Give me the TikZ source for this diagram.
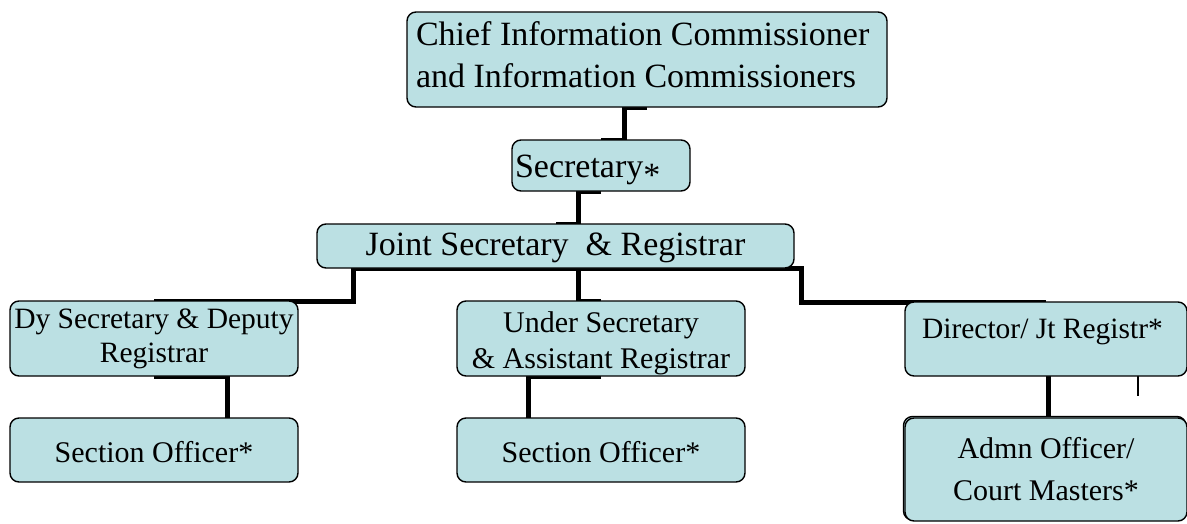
\documentclass[tikz,border=0pt]{standalone}
\usepackage{fontspec}
\setmainfont{Liberation Serif}
\usetikzlibrary{calc}
\pgfdeclarelayer{background}
\pgfsetlayers{background,main}
\definecolor{boxfill}{HTML}{BBE0E3}
\begin{document}
\begin{tikzpicture}[x=1pt,y=-1pt,
  box/.style={draw=black, line width=1.4pt, fill=boxfill, rounded corners=9pt, inner sep=0pt, outer sep=0pt, anchor=center},
  conn/.style={draw=black, line width=5pt, line join=miter},
  thinconn/.style={draw=black, line width=1.5pt}]
\useasboundingbox (0,0) rectangle (1187,523);

% back outline of the last box
\draw[box] (903.5,416.5) rectangle (1186,520);

\node[box, minimum width=480pt, minimum height=95pt, text height=20pt, text depth=49pt] (C0) at (647,59.5)
  {\parbox[t]{462pt}{\raggedright\fontsize{34}{42}\selectfont Chief Information Commissioner\\and Information Commissioners}};
\node[box, minimum width=178pt, minimum height=51pt, text height=30pt, text depth=7pt] (S) at (601,165.5)
  {\parbox[t]{172pt}{\raggedright\fontsize{34}{40}\selectfont Secretary\raisebox{-9pt}{*}}};
\node[box, minimum width=477pt, minimum height=44pt, text height=25pt, text depth=7pt] (J) at (555.5,246)
  {\fontsize{34}{40}\selectfont Joint Secretary\ \ \& Registrar};
\node[box, minimum width=288pt, minimum height=75pt, text height=20pt, text depth=41pt] (D1) at (154,338.5)
  {\parbox[t]{288pt}{\centering\fontsize{29.5}{34}\selectfont Dy Secretary \& Deputy\\Registrar}};
\node[box, minimum width=288pt, minimum height=75pt, text height=20pt, text depth=33pt] (U) at (601,338.5)
  {\parbox[t]{288pt}{\centering\fontsize{30}{36}\selectfont Under Secretary\\\& Assistant Registrar}};
\node[box, minimum width=282pt, minimum height=74pt, text height=20pt, text depth=22pt] (D3) at (1046,339)
  {\parbox[t]{248pt}{\raggedright\fontsize{29.5}{36}\selectfont Director/ Jt Registr*}};
\node[box, minimum width=288pt, minimum height=64pt, text height=26pt, text depth=2pt] (S1) at (154,450)
  {\fontsize{30}{36}\selectfont Section Officer*};
\node[box, minimum width=288pt, minimum height=64pt, text height=26pt, text depth=2pt] (S2) at (601,450)
  {\fontsize{30}{36}\selectfont Section Officer*};
\node[box, minimum width=282pt, minimum height=103pt, text height=20pt, text depth=43pt] (A3) at (1046,469.5)
  {\parbox[t]{282pt}{\centering\fontsize{30}{42}\selectfont Admn Officer/\\Court Masters*}};

\coordinate (k1) at (227,0);
\coordinate (k2) at (528,0);
\coordinate (k3) at (1048,0);
\coordinate (k4) at (1138,396);

\begin{pgfonlayer}{background}
\draw[conn] (C0.south) -| (624,123.5) |- (S.north);
\draw[conn] (S.south) -| (578,207) |- (J.north);
\draw[conn] (J.south) -| (353,284) |- (D1.north);
\draw[conn] (J.south) -| (578,284) |- (U.north);
\draw[conn] (J.south) -| (801,285) |- (D3.north);
\draw[conn] (D1.south) -| (S1.north -| k1);
\draw[conn] (U.south) -| (S2.north -| k2);
\draw[conn] (D3.south) -| (A3.north -| k3);
\draw[thinconn] (D3.south -| k4) -- (k4);
\end{pgfonlayer}
\end{tikzpicture}
\end{document}
